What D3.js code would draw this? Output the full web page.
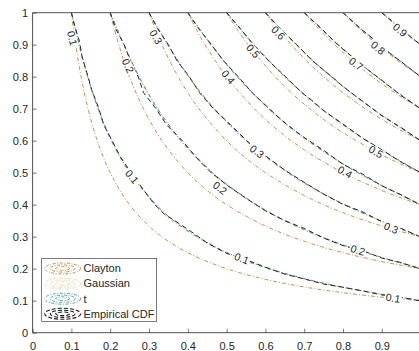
<!DOCTYPE html>
<html>
<head>
<meta charset="utf-8">
<script src="https://cdn.jsdelivr.net/npm/d3@7"></script>
<style>
  body { margin: 0; background: #fff; }
  svg { display: block; font-family: "Liberation Sans", Arial, sans-serif; }
</style>
</head>
<body>
<div id="chart"></div>
<script>
// contour levels and the tick values
const levels = [0.1, 0.2, 0.3, 0.4, 0.5, 0.6, 0.7, 0.8, 0.9];
const xTicks = [0, 0.1, 0.2, 0.3, 0.4, 0.5, 0.6, 0.7, 0.8, 0.9];
const yTicks = [0, 0.1, 0.2, 0.3, 0.4, 0.5, 0.6, 0.7, 0.8, 0.9, 1];
const seriesNames = ['Clayton', 'Gaussian', 't', 'Empirical CDF'];

// contour points [u, v], one list per level
const claytonCurves = [
  [[0.1,1],[0.1053,0.95],[0.1111,0.9],[0.125,0.8],[0.1429,0.7],[0.1667,0.6],[0.2,0.5],[0.25,0.4],[0.3162,0.3162],[0.4,0.25],[0.5,0.2],[0.6,0.1667],[0.7,0.1429],[0.8,0.125],[0.9,0.1111],[0.95,0.1053],[1,0.1]],
  [[0.2,1],[0.2105,0.95],[0.2222,0.9],[0.25,0.8],[0.2857,0.7],[0.3333,0.6],[0.4,0.5],[0.4472,0.4472],[0.5,0.4],[0.6,0.3333],[0.7,0.2857],[0.8,0.25],[0.9,0.2222],[0.95,0.2105],[1,0.2]],
  [[0.3,1],[0.3158,0.95],[0.3333,0.9],[0.375,0.8],[0.4286,0.7],[0.5,0.6],[0.5477,0.5477],[0.6,0.5],[0.7,0.4286],[0.8,0.375],[0.9,0.3333],[0.95,0.3158],[1,0.3]],
  [[0.4,1],[0.4211,0.95],[0.4444,0.9],[0.5,0.8],[0.5714,0.7],[0.6325,0.6325],[0.7,0.5714],[0.8,0.5],[0.9,0.4444],[0.95,0.4211],[1,0.4]],
  [[0.5,1],[0.5263,0.95],[0.5556,0.9],[0.625,0.8],[0.6667,0.75],[0.7071,0.7071],[0.75,0.6667],[0.8,0.625],[0.9,0.5556],[0.95,0.5263],[1,0.5]],
  [[0.6,1],[0.6316,0.95],[0.6667,0.9],[0.7059,0.85],[0.75,0.8],[0.7746,0.7746],[0.8,0.75],[0.85,0.7059],[0.9,0.6667],[0.95,0.6316],[1,0.6]],
  [[0.7,1],[0.7368,0.95],[0.7778,0.9],[0.8235,0.85],[0.8367,0.8367],[0.85,0.8235],[0.9,0.7778],[0.95,0.7368],[1,0.7]],
  [[0.8,1],[0.8421,0.95],[0.8649,0.925],[0.8944,0.8944],[0.925,0.8649],[0.95,0.8421],[1,0.8]],
  [[0.9,1],[0.9231,0.975],[0.9375,0.96],[0.9487,0.9487],[0.96,0.9375],[0.975,0.9231],[1,0.9]]
];

const gaussianCurves = [
  [[0.1,1],[0.1098,0.95],[0.1195,0.9],[0.1412,0.8],[0.168,0.7],[0.2022,0.6],[0.2488,0.5],[0.3158,0.4],[0.3545,0.3545],[0.4,0.3158],[0.5,0.2488],[0.6,0.2022],[0.7,0.168],[0.8,0.1412],[0.9,0.1195],[0.95,0.1098],[1,0.1]],
  [[0.2,1],[0.2172,0.95],[0.2345,0.9],[0.2733,0.8],[0.3206,0.7],[0.381,0.6],[0.4615,0.5],[0.4795,0.4795],[0.5,0.4615],[0.6,0.381],[0.7,0.3206],[0.8,0.2733],[0.9,0.2345],[0.95,0.2172],[1,0.2]],
  [[0.3,1],[0.3236,0.95],[0.3476,0.9],[0.4013,0.8],[0.4666,0.7],[0.549,0.6],[0.5733,0.5733],[0.6,0.549],[0.7,0.4666],[0.8,0.4013],[0.9,0.3476],[0.95,0.3236],[1,0.3]],
  [[0.4,1],[0.4293,0.95],[0.4592,0.9],[0.5263,0.8],[0.6073,0.7],[0.6517,0.6517],[0.7,0.6073],[0.8,0.5263],[0.9,0.4592],[0.95,0.4293],[1,0.4]],
  [[0.5,1],[0.5342,0.95],[0.5697,0.9],[0.6488,0.8],[0.694,0.75],[0.7208,0.7208],[0.75,0.694],[0.8,0.6488],[0.9,0.5697],[0.95,0.5342],[1,0.5]],
  [[0.6,1],[0.6388,0.95],[0.679,0.9],[0.722,0.85],[0.7688,0.8],[0.7837,0.7837],[0.8,0.7688],[0.85,0.722],[0.9,0.679],[0.95,0.6388],[1,0.6]],
  [[0.7,1],[0.7426,0.95],[0.7872,0.9],[0.8348,0.85],[0.8422,0.8422],[0.85,0.8348],[0.9,0.7872],[0.95,0.7426],[1,0.7]],
  [[0.8,1],[0.846,0.95],[0.8698,0.925],[0.8967,0.8967],[0.925,0.8698],[0.95,0.846],[1,0.8]],
  [[0.9,1],[0.9242,0.975],[0.9388,0.96],[0.949,0.949],[0.96,0.9388],[0.975,0.9242],[1,0.9]]
];

const tCurves = [
  [[0.1,1],[0.1102,0.95],[0.1201,0.9],[0.1422,0.8],[0.1693,0.7],[0.2039,0.6],[0.251,0.5],[0.3185,0.4],[0.357,0.357],[0.4,0.3185],[0.5,0.251],[0.6,0.2039],[0.7,0.1693],[0.8,0.1422],[0.9,0.1201],[0.95,0.1102],[1,0.1]],
  [[0.2,1],[0.2177,0.95],[0.2353,0.9],[0.2746,0.8],[0.3224,0.7],[0.3831,0.6],[0.4639,0.5],[0.4816,0.4816],[0.5,0.4639],[0.6,0.3831],[0.7,0.3224],[0.8,0.2746],[0.9,0.2353],[0.95,0.2177],[1,0.2]],
  [[0.3,1],[0.3241,0.95],[0.3484,0.9],[0.4027,0.8],[0.4684,0.7],[0.5511,0.6],[0.5752,0.5752],[0.6,0.5511],[0.7,0.4684],[0.8,0.4027],[0.9,0.3484],[0.95,0.3241],[1,0.3]],
  [[0.4,1],[0.4298,0.95],[0.46,0.9],[0.5277,0.8],[0.6091,0.7],[0.6534,0.6534],[0.7,0.6091],[0.8,0.5277],[0.9,0.46],[0.95,0.4298],[1,0.4]],
  [[0.5,1],[0.5347,0.95],[0.5705,0.9],[0.6501,0.8],[0.6954,0.75],[0.7223,0.7223],[0.75,0.6954],[0.8,0.6501],[0.9,0.5705],[0.95,0.5347],[1,0.5]],
  [[0.6,1],[0.6392,0.95],[0.6798,0.9],[0.7231,0.85],[0.77,0.8],[0.7849,0.7849],[0.8,0.77],[0.85,0.7231],[0.9,0.6798],[0.95,0.6392],[1,0.6]],
  [[0.7,1],[0.743,0.95],[0.7879,0.9],[0.8357,0.85],[0.8432,0.8432],[0.85,0.8357],[0.9,0.7879],[0.95,0.743],[1,0.7]],
  [[0.8,1],[0.8464,0.95],[0.8703,0.925],[0.8974,0.8974],[0.925,0.8703],[0.95,0.8464],[1,0.8]],
  [[0.9,1],[0.9244,0.975],[0.9391,0.96],[0.9493,0.9493],[0.96,0.9391],[0.975,0.9244],[1,0.9]]
];

const empiricalCurves = [
  [[0.1,1],[0.108,0.96],[0.121,0.91],[0.128,0.86],[0.143,0.8],[0.152,0.76],[0.171,0.7],[0.183,0.65],[0.205,0.6],[0.226,0.55],[0.254,0.5],[0.29,0.44],[0.315,0.4],[0.34,0.37],[0.36,0.355],[0.41,0.315],[0.45,0.28],[0.5,0.248],[0.55,0.228],[0.6,0.205],[0.65,0.183],[0.7,0.168],[0.75,0.152],[0.8,0.142],[0.85,0.131],[0.9,0.118],[0.95,0.111],[1,0.099]],
  [[0.2,1],[0.214,0.95],[0.236,0.9],[0.252,0.85],[0.272,0.8],[0.286,0.75],[0.318,0.7],[0.345,0.65],[0.386,0.6],[0.42,0.55],[0.46,0.5],[0.482,0.48],[0.5,0.462],[0.55,0.42],[0.6,0.381],[0.65,0.35],[0.7,0.326],[0.75,0.296],[0.8,0.272],[0.85,0.257],[0.9,0.233],[0.95,0.219],[1,0.199]],
  [[0.3,1],[0.322,0.95],[0.35,0.9],[0.372,0.85],[0.404,0.8],[0.43,0.75],[0.466,0.7],[0.51,0.65],[0.552,0.6],[0.576,0.574],[0.6,0.553],[0.65,0.508],[0.7,0.47],[0.75,0.433],[0.8,0.401],[0.85,0.378],[0.9,0.347],[0.95,0.326],[1,0.299]],
  [[0.4,1],[0.428,0.95],[0.461,0.9],[0.492,0.85],[0.53,0.8],[0.566,0.75],[0.61,0.7],[0.632,0.675],[0.654,0.652],[0.68,0.628],[0.7,0.61],[0.75,0.57],[0.8,0.526],[0.85,0.496],[0.9,0.459],[0.95,0.431],[1,0.399]],
  [[0.5,1],[0.536,0.95],[0.569,0.9],[0.608,0.85],[0.652,0.8],[0.694,0.75],[0.722,0.724],[0.75,0.694],[0.8,0.652],[0.85,0.608],[0.9,0.572],[0.95,0.533],[1,0.5]],
  [[0.6,1],[0.638,0.95],[0.681,0.9],[0.721,0.85],[0.771,0.8],[0.785,0.786],[0.8,0.769],[0.85,0.724],[0.9,0.678],[0.95,0.641],[1,0.6]],
  [[0.7,1],[0.745,0.95],[0.786,0.9],[0.836,0.85],[0.844,0.842],[0.85,0.835],[0.9,0.789],[0.95,0.741],[1,0.7]],
  [[0.8,1],[0.845,0.95],[0.871,0.925],[0.898,0.897],[0.925,0.869],[0.95,0.847],[1,0.8]],
  [[0.9,1],[0.925,0.975],[0.938,0.96],[0.95,0.949],[0.96,0.94],[0.975,0.923],[1,0.9]]
];

// inline contour labels: level index and [u, v] spot on the curve
const labelLevelIdx = [0, 0, 0, 0, 1, 1, 1, 2, 2, 2, 3, 3, 4, 4, 5, 6, 7, 8];
const labelSpots = [
  [0.102, 0.92], [0.256, 0.487], [0.539, 0.232], [0.929, 0.108],
  [0.246, 0.834], [0.483, 0.452], [0.838, 0.258],
  [0.318, 0.924], [0.578, 0.566], [0.924, 0.327],
  [0.504, 0.799], [0.805, 0.502],
  [0.568, 0.88], [0.885, 0.565],
  [0.633, 0.937],
  [0.8335, 0.84],
  [0.89, 0.89],
  [0.947, 0.946]
];

const width = 419, height = 351;
const svg = d3.select('#chart').append('svg')
  .attr('width', width)
  .attr('height', height);

const x = d3.scaleLinear([0, 1], [32.6, 420.6]);
const y = d3.scaleLinear([0, 1], [332.7, 12.7]);

svg.append('defs').append('clipPath').attr('id', 'plot-clip')
  .append('rect')
  .attr('x', x(0)).attr('y', y(1))
  .attr('width', x(1) - x(0)).attr('height', y(0) - y(1));

const axisColor = '#262626';
const fontSize = '11px';

// axes
const xAxis = svg.append('g')
  .attr('transform', `translate(0,${y(0)})`)
  .call(d3.axisBottom(x).tickValues(xTicks).tickSizeInner(-4).tickSizeOuter(0).tickPadding(9.5)
    .tickFormat(d3.format('~g')));
const yAxis = svg.append('g')
  .attr('transform', `translate(${x(0)},0)`)
  .call(d3.axisLeft(y).tickValues(yTicks).tickSizeInner(-4).tickSizeOuter(0).tickPadding(4.5)
    .tickFormat(d3.format('~g')));
[xAxis, yAxis].forEach(g => {
  g.select('.domain').remove();
  g.selectAll('line').attr('stroke', axisColor).attr('stroke-width', 0.6);
  g.selectAll('text').attr('fill', axisColor).style('font-size', fontSize)
    .style('font-family', '"Liberation Sans", Arial, sans-serif');
});

const plot = svg.append('g').attr('clip-path', 'url(#plot-clip)');

const smooth = d3.line().x(d => x(d[0])).y(d => y(d[1])).curve(d3.curveCatmullRom.alpha(0.5));
const rough = d3.line().x(d => x(d[0])).y(d => y(d[1]));

const styles = [
  { data: claytonCurves, color: '#b98546', dash: '4,2,1,2', width: 0.9, line: smooth },
  { data: gaussianCurves, color: '#ecd0a0', dash: '4,2,1,2', width: 1.2, line: smooth },
  { data: tCurves, color: '#3d9a8c', dash: '4,2,1,2', width: 1, line: smooth },
  { data: empiricalCurves, color: '#1a1a1a', dash: '5,3.5', width: 0.95, line: rough }
];

styles.forEach(s => {
  plot.append('g')
    .selectAll('path')
    .data(s.data)
    .join('path')
    .attr('d', d => s.line(d))
    .attr('fill', 'none')
    .attr('stroke', s.color)
    .attr('stroke-width', s.width)
    .attr('stroke-dasharray', s.dash);
});

// contour labels, rotated to follow the curve
function labelAngle(curve, u, v) {
  const px = x(u), py = y(v);
  let best = 0, bestD = Infinity;
  for (let i = 0; i < curve.length - 1; i++) {
    const mx = (x(curve[i][0]) + x(curve[i + 1][0])) / 2;
    const my = (y(curve[i][1]) + y(curve[i + 1][1])) / 2;
    const dd = (mx - px) ** 2 + (my - py) ** 2;
    if (dd < bestD) { bestD = dd; best = i; }
  }
  const dx = x(curve[best + 1][0]) - x(curve[best][0]);
  const dy = y(curve[best + 1][1]) - y(curve[best][1]);
  return Math.atan2(dy, dx) * 180 / Math.PI;
}

const labels = plot.append('g')
  .selectAll('g')
  .data(labelSpots)
  .join('g')
  .attr('transform', (d, i) => {
    const a = labelAngle(tCurves[labelLevelIdx[i]], d[0], d[1]);
    return `translate(${x(d[0])},${y(d[1])}) rotate(${a})`;
  });
labels.append('rect')
  .attr('x', -8.5).attr('y', -4.5).attr('width', 17).attr('height', 9)
  .attr('fill', '#fff');
labels.append('text')
  .attr('text-anchor', 'middle')
  .attr('dy', '0.35em')
  .style('font-size', '10.5px')
  .attr('fill', axisColor)
  .text((d, i) => d3.format('~g')(levels[labelLevelIdx[i]]));

// box lines (top, left, bottom)
svg.append('line').attr('x1', x(0)).attr('x2', x(1)).attr('y1', y(1)).attr('y2', y(1))
  .attr('stroke', axisColor).attr('stroke-width', 0.8);
svg.append('line').attr('x1', x(0)).attr('x2', x(0)).attr('y1', y(0)).attr('y2', y(1))
  .attr('stroke', axisColor).attr('stroke-width', 0.8);
svg.append('line').attr('x1', x(0)).attr('x2', x(1)).attr('y1', y(0)).attr('y2', y(0))
  .attr('stroke', axisColor).attr('stroke-width', 0.8);

// legend
const legend = svg.append('g').attr('transform', 'translate(41.7,258.3)');
legend.append('rect')
  .attr('width', 115).attr('height', 63.4)
  .attr('fill', '#fff')
  .attr('stroke', axisColor).attr('stroke-width', 0.6);

const rows = legend.selectAll('g.row')
  .data(seriesNames)
  .join('g')
  .attr('class', 'row')
  .attr('transform', (d, i) => `translate(0,${10.2 + i * 15.1})`);

rows.each(function (d, i) {
  const g = d3.select(this);
  const s = styles[i];
  [[18, 5.5], [12.5, 3.6], [7, 1.8]].forEach(r => {
    g.append('ellipse')
      .attr('cx', 21).attr('cy', 0)
      .attr('rx', r[0]).attr('ry', r[1])
      .attr('fill', 'none')
      .attr('stroke', s.color)
      .attr('stroke-width', i === 3 ? 1.1 : 0.9)
      .attr('stroke-dasharray', i === 3 ? '4,2' : '3,1.5,1,1.5');
  });
});
rows.append('text')
  .attr('x', 41.8)
  .attr('dy', '0.35em')
  .style('font-size', fontSize)
  .attr('fill', axisColor)
  .text(d => d);
</script>
</body>
</html>
